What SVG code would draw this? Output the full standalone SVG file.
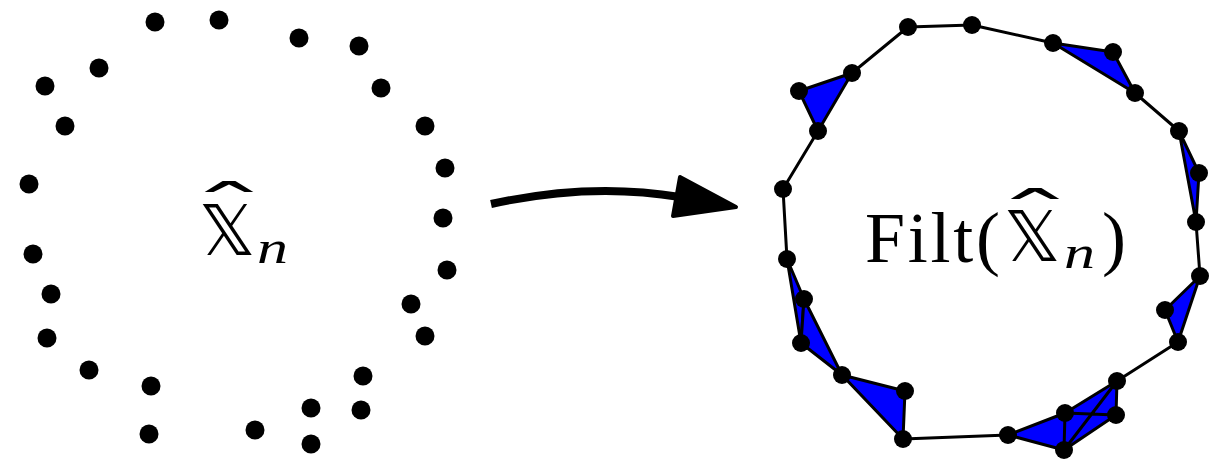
<svg xmlns="http://www.w3.org/2000/svg" width="1226" height="460" viewBox="0 0 1226 460">
<style>
.pt{fill:#000}
.e{stroke:#000;stroke-width:3;fill:none;stroke-linejoin:round}
.tri{fill:#0000ff;stroke:#000;stroke-width:3;stroke-linejoin:round}
.lbl{font-family:"DejaVu Serif","Liberation Serif",serif;fill:#000}
.bb{font-family:"DejaVu Sans",sans-serif;font-size:70px}
.hat{font-family:"DejaVu Serif",serif;font-size:60px;fill:#000}
.it{font-family:"Liberation Serif",serif;font-style:italic;font-size:46px}
.rm{font-family:"Liberation Serif",serif;font-size:72px}
</style>
<rect width="1226" height="460" fill="#fff"/>
<g id="pointcloud">
<circle class="pt" cx="155" cy="22" r="9.5"/>
<circle class="pt" cx="219" cy="20" r="9.5"/>
<circle class="pt" cx="299" cy="38" r="9.5"/>
<circle class="pt" cx="359" cy="46" r="9.5"/>
<circle class="pt" cx="381" cy="88" r="9.5"/>
<circle class="pt" cx="99" cy="68" r="9.5"/>
<circle class="pt" cx="45" cy="86" r="9.5"/>
<circle class="pt" cx="65" cy="126" r="9.5"/>
<circle class="pt" cx="425" cy="126" r="9.5"/>
<circle class="pt" cx="445" cy="168" r="9.5"/>
<circle class="pt" cx="29" cy="184" r="9.5"/>
<circle class="pt" cx="443" cy="218" r="9.5"/>
<circle class="pt" cx="33" cy="254" r="9.5"/>
<circle class="pt" cx="447" cy="270" r="9.5"/>
<circle class="pt" cx="51" cy="294" r="9.5"/>
<circle class="pt" cx="411" cy="304" r="9.5"/>
<circle class="pt" cx="47" cy="338" r="9.5"/>
<circle class="pt" cx="425" cy="336" r="9.5"/>
<circle class="pt" cx="89" cy="370" r="9.5"/>
<circle class="pt" cx="151" cy="386" r="9.5"/>
<circle class="pt" cx="363" cy="376" r="9.5"/>
<circle class="pt" cx="311" cy="408" r="9.5"/>
<circle class="pt" cx="361" cy="410" r="9.5"/>
<circle class="pt" cx="149" cy="434" r="9.5"/>
<circle class="pt" cx="255" cy="430" r="9.5"/>
<circle class="pt" cx="311" cy="444" r="9.5"/>
</g>
<g id="label-left">
<text class="lbl"><tspan class="bb" x="199" y="255">𝕏</tspan><tspan class="it" x="257" y="263" textLength="31" lengthAdjust="spacingAndGlyphs">n</tspan></text>
<text class="hat" text-anchor="middle" transform="translate(229,229) scale(2.6,1)">ˆ</text>
</g>
<g id="connectors">
<path d="M491,204 Q590,182 680,197" fill="none" stroke="#000" stroke-width="8"/>
<polygon points="680,177 736,207 673,216" fill="#000" stroke="#000" stroke-width="4" stroke-linejoin="round"/>
</g>
<g id="filtration">
<polygon class="tri" points="799,91 852,73 818,131"/>
<polygon class="tri" points="1053,43 1113,52 1135,93"/>
<polygon class="tri" points="1179,131 1199,173 1196,222"/>
<polygon class="tri" points="1200,276 1165,310 1178,342"/>
<polygon class="tri" points="842,375 905,391 903,439"/>
<polygon class="tri" points="787,259 804,299 801,343"/>
<polygon class="tri" points="804,299 842,375 801,343"/>
<polygon class="tri" points="1008,435 1065,413 1117,381 1116,415 1064,450"/>
<path class="e" d="M1065,413 L1116,415 M1065,413 L1064,450 M1117,381 L1064,450"/>
<path class="e" d="M852,73 L908,27 L972,25 L1053,43 M1135,93 L1179,131 M1196,222 L1200,276 M1178,342 L1117,381 M1008,435 L903,439 M787,259 L783,189 L818,131"/>
<g class="pts">
<circle class="pt" cx="908" cy="27" r="9"/>
<circle class="pt" cx="972" cy="25" r="9"/>
<circle class="pt" cx="1053" cy="43" r="9"/>
<circle class="pt" cx="1113" cy="52" r="9"/>
<circle class="pt" cx="1135" cy="93" r="9"/>
<circle class="pt" cx="1179" cy="131" r="9"/>
<circle class="pt" cx="1199" cy="173" r="9"/>
<circle class="pt" cx="1196" cy="222" r="9"/>
<circle class="pt" cx="852" cy="73" r="9"/>
<circle class="pt" cx="799" cy="91" r="9"/>
<circle class="pt" cx="818" cy="131" r="9"/>
<circle class="pt" cx="783" cy="189" r="9"/>
<circle class="pt" cx="1200" cy="276" r="9"/>
<circle class="pt" cx="1165" cy="310" r="9"/>
<circle class="pt" cx="1178" cy="342" r="9"/>
<circle class="pt" cx="1117" cy="381" r="9"/>
<circle class="pt" cx="1116" cy="415" r="9"/>
<circle class="pt" cx="1065" cy="413" r="9"/>
<circle class="pt" cx="1064" cy="450" r="9"/>
<circle class="pt" cx="1008" cy="435" r="9"/>
<circle class="pt" cx="903" cy="439" r="9"/>
<circle class="pt" cx="905" cy="391" r="9"/>
<circle class="pt" cx="842" cy="375" r="9"/>
<circle class="pt" cx="801" cy="343" r="9"/>
<circle class="pt" cx="804" cy="299" r="9"/>
<circle class="pt" cx="787" cy="259" r="9"/>
</g>
</g>
<g id="label-right">
<text class="lbl"><tspan class="rm" x="865" y="262" textLength="135" lengthAdjust="spacing">Filt(</tspan><tspan class="bb" x="1004" y="261">𝕏</tspan><tspan class="it" x="1064" y="268" textLength="31" lengthAdjust="spacingAndGlyphs">n</tspan><tspan class="rm" x="1102" y="262">)</tspan></text>
<text class="hat" text-anchor="middle" transform="translate(1035,236) scale(2.6,1)">ˆ</text>
</g>
</svg>
